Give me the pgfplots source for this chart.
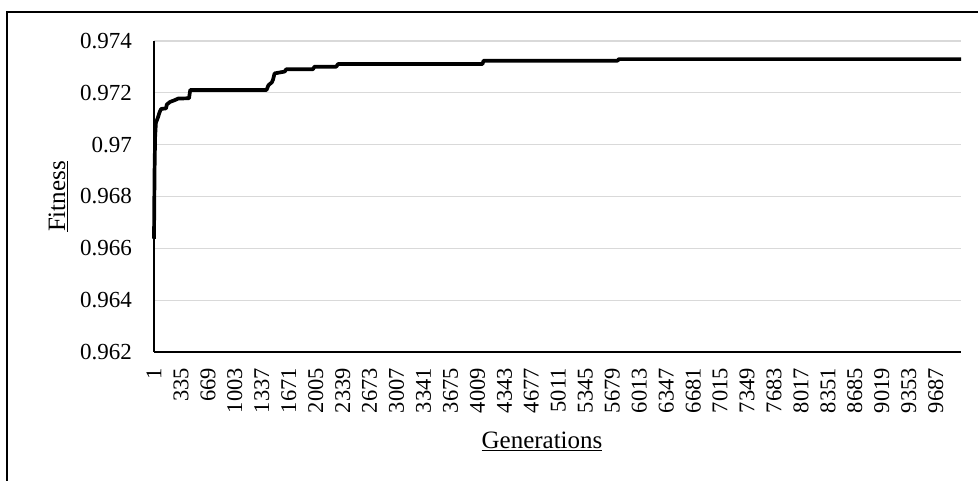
\documentclass[border=0pt]{standalone}
\usepackage{pgfplots}
\pgfplotsset{compat=1.18}
\usepackage{fontspec}
\setmainfont{Liberation Serif}
\definecolor{gridgray}{HTML}{D9D9D9}
\begin{document}
\begin{tikzpicture}
\useasboundingbox (-154pt,-128pt) rectangle (824pt,352pt);
\draw[line width=1.2pt,black] (-147pt,-140pt) -- (-147pt,340pt) -- (840pt,340pt);
\begin{axis}[
  at={(0pt,0pt)}, anchor=south west,
  scale only axis, width=807pt, height=311pt,
  xmin=1, xmax=10000, ymin=0.962, ymax=0.974,
  axis x line*=bottom, axis y line*=left,
  axis line style={line width=1.1pt, black, -},
  scaled ticks=false,
  xtick={1,335,...,9687},
  ytick={0.962,0.964,...,0.9741},
  tick style={draw=none},
  ymajorgrids, grid style={gridgray, line width=1.1pt},
  /pgf/number format/assume math mode=true,
  xticklabel style={font=\fontsize{22.5}{24}\selectfont, inner sep=0pt, yshift=-16pt, rotate=90, anchor=east,
    /pgf/number format/1000 sep={}},
  yticklabel style={font=\fontsize{23}{24}\selectfont, inner sep=0pt, xshift=-22pt, anchor=east,
    /pgf/number format/fixed, /pgf/number format/precision=3},
  clip=false,
]
\addplot[black, line width=3.7pt, line join=round] coordinates {
(1,0.96637) (8,0.9690) (15,0.9703) (25,0.97085) (50,0.97105) (70,0.97125) (90,0.97138)
(150,0.97140) (160,0.97155) (200,0.97165) (260,0.97172) (300,0.97178) (435,0.97179)
(450,0.97211) (1395,0.97211) (1420,0.97230) (1460,0.97240) (1475,0.97250) (1495,0.97275)
(1620,0.97282) (1640,0.97291) (1970,0.97291) (1990,0.97301) (2260,0.97301) (2280,0.97311)
(4070,0.97311) (4085,0.97324) (5745,0.97324) (5760,0.97330) (10000,0.97330)
};
\end{axis}
\node[rotate=90, inner sep=0pt, font=\fontsize{25}{27}\selectfont] at (-96pt,155.5pt) {\underline{Fitness}};
\node[inner sep=0pt, font=\fontsize{25}{27}\selectfont] at (388pt,-89pt) {\underline{Generations}};
\end{tikzpicture}
\end{document}
